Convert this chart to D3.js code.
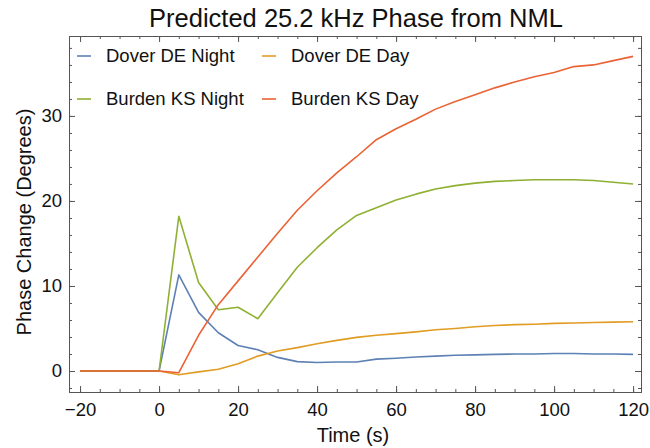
<!DOCTYPE html>
<html>
<head>
<meta charset="utf-8">
<script src="https://cdn.jsdelivr.net/npm/d3@7"></script>
<style>
  html, body { margin: 0; padding: 0; background: #fff; }
  svg { display: block; font-family: "Liberation Sans", Arial, sans-serif; }
</style>
</head>
<body>
<svg id="chart" width="650" height="448"></svg>
<script>
// ---- data ----
const times = [-20, -15, -10, -5, 0, 5, 10, 15, 20, 25, 30, 35, 40, 45, 50, 55, 60, 65, 70, 75, 80, 85, 90, 95, 100, 105, 110, 115, 120];
const seriesNames = ["Dover DE Night", "Dover DE Day", "Burden KS Night", "Burden KS Day"];
const doverNight = [0, 0, 0, 0, 0, 11.3, 6.9, 4.5, 3.0, 2.5, 1.6, 1.1, 1.0, 1.05, 1.05, 1.4, 1.5, 1.65, 1.75, 1.85, 1.9, 1.95, 2.0, 2.0, 2.05, 2.05, 2.0, 2.0, 1.95];
const doverDay = [0, 0, 0, 0, 0, -0.45, -0.1, 0.2, 0.85, 1.75, 2.35, 2.75, 3.2, 3.6, 3.95, 4.2, 4.4, 4.6, 4.85, 5.0, 5.2, 5.35, 5.45, 5.5, 5.6, 5.65, 5.7, 5.75, 5.8];
const burdenNight = [0, 0, 0, 0, 0, 18.2, 10.4, 7.2, 7.5, 6.15, 9.2, 12.2, 14.5, 16.6, 18.3, 19.2, 20.1, 20.8, 21.4, 21.8, 22.1, 22.3, 22.4, 22.5, 22.5, 22.5, 22.4, 22.2, 22.0];
const burdenDay = [0, 0, 0, 0, 0, -0.2, 4.2, 7.8, 10.6, 13.4, 16.2, 18.9, 21.2, 23.3, 25.2, 27.2, 28.5, 29.6, 30.8, 31.7, 32.5, 33.3, 34.0, 34.6, 35.1, 35.8, 36.0, 36.5, 37.0];
const colors = ["#5E81B5", "#E19C24", "#8FB032", "#EB6235"];
const xTicks = [-20, 0, 20, 40, 60, 80, 100, 120];
const yTicks = [0, 10, 20, 30];
const xMinor = d3.range(-20, 121, 5);
const yMinor = d3.range(-2, 39, 2);

const allSeries = [doverNight, doverDay, burdenNight, burdenDay];

// ---- layout ----
const pLeft = 69, pRight = 641, pTop = 36, pBottom = 392;
const svg = d3.select("#chart");
const x = d3.scaleLinear().domain([-22.8, 122.0]).range([pLeft, pRight]);
const y = d3.scaleLinear().domain([-2.47, 39.4]).range([pBottom, pTop]);

const frameColor = "#555";

// Title
svg.append("text").attr("x", 356).attr("y", 27).attr("text-anchor", "middle")
  .attr("font-size", 25.5).attr("fill", "#111").text("Predicted 25.2 kHz Phase from NML");

// lines
const line = d3.line().x((d, i) => x(times[i])).y(d => y(d));
const plot = svg.append("g");
allSeries.forEach((s, k) => {
  plot.append("path").datum(s).attr("d", line).attr("fill", "none")
    .attr("stroke", colors[k]).attr("stroke-width", 1.6).attr("stroke-linejoin", "round");
});

// frame axes (ticks inward)
function addAxis(axisGen, transform, labels) {
  const g = svg.append("g").attr("transform", transform).call(axisGen);
  g.select(".domain").attr("stroke", frameColor).attr("stroke-width", 1);
  g.selectAll(".tick line").attr("stroke", frameColor);
  g.selectAll(".tick text").attr("fill", "#111").attr("font-size", 18.5)
    .attr("font-family", "Liberation Sans, Arial, sans-serif");
  if (!labels) g.selectAll(".tick text").remove();
  return g;
}
// minor ticks first
addAxis(d3.axisBottom(x).tickValues(xMinor).tickSize(-3).tickSizeOuter(0).tickFormat(""), `translate(0,${pBottom})`, false);
addAxis(d3.axisTop(x).tickValues(xMinor).tickSize(-3).tickSizeOuter(0).tickFormat(""), `translate(0,${pTop})`, false);
addAxis(d3.axisLeft(y).tickValues(yMinor).tickSize(-3).tickSizeOuter(0).tickFormat(""), `translate(${pLeft},0)`, false);
addAxis(d3.axisRight(y).tickValues(yMinor).tickSize(-3).tickSizeOuter(0).tickFormat(""), `translate(${pRight},0)`, false);
// major ticks
addAxis(d3.axisBottom(x).tickValues(xTicks).tickSize(-6).tickSizeOuter(0).tickPadding(11)
  .tickFormat(d => d < 0 ? "\u2212" + Math.abs(d) : d), `translate(0,${pBottom})`, true);
addAxis(d3.axisTop(x).tickValues(xTicks).tickSize(-6).tickSizeOuter(0), `translate(0,${pTop})`, false);
addAxis(d3.axisLeft(y).tickValues(yTicks).tickSize(-6).tickSizeOuter(0).tickPadding(7), `translate(${pLeft},0)`, true);
addAxis(d3.axisRight(y).tickValues(yTicks).tickSize(-6).tickSizeOuter(0), `translate(${pRight},0)`, false);

// axis labels
svg.append("text").attr("x", 353).attr("y", 442).attr("text-anchor", "middle")
  .attr("font-size", 20).attr("fill", "#111").text("Time (s)");
svg.append("text").attr("transform", "translate(31,222) rotate(-90)").attr("text-anchor", "middle")
  .attr("font-size", 20).attr("fill", "#111").text("Phase Change (Degrees)");

// legend
const legPos = [[77, 56], [262, 56], [77, 99], [262, 99]];
seriesNames.forEach((n, k) => {
  const [lx, ly] = legPos[k];
  svg.append("line").attr("x1", lx).attr("x2", lx + 14).attr("y1", ly).attr("y2", ly)
    .attr("stroke", colors[k]).attr("stroke-width", 1.6);
  svg.append("text").attr("x", lx + 29).attr("y", ly).attr("dy", "0.35em")
    .attr("font-size", 18.5).attr("fill", "#111").text(n);
});
</script>
</body>
</html>
